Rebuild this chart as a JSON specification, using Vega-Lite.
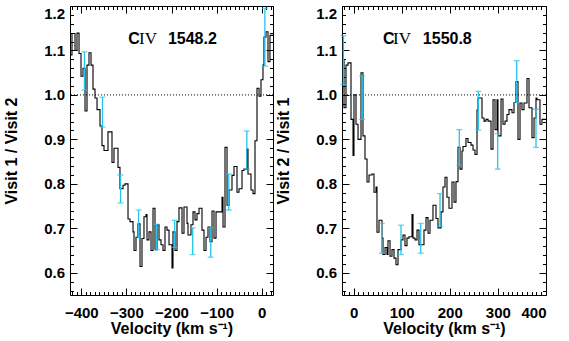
{
  "$schema": "https://vega.github.io/schema/vega-lite/v6.json",
  "autosize": {"type": "pad"},
  "padding": {"left": 2, "top": 5, "right": 0, "bottom": 0},
  "bounds": "flush",
  "spacing": 69,
  "config": {
    "view": {"stroke": "black", "strokeWidth": 1},
    "font": "Liberation Sans",
    "axis": {
      "domain": false, "grid": false, "tickColor": "black", "labelColor": "black",
      "labelFont": "Liberation Sans", "labelFontWeight": "bold", "labelFontSize": 15,
      "titleFont": "Liberation Sans", "titleFontWeight": "bold", "titleFontSize": 16, "titleColor": "black",
      "labelOverlap": false, "tickWidth": 1
    }
  },
  "datasets": {
    "left": [
      {"v":-425,"r":1.09},{"v":-420.6,"r":1.138},{"v":-413.9,"r":1.10},{"v":-409.5,"r":1.139},{"v":-405.0,"r":1.093},
      {"v":-400.6,"r":1.042},{"v":-396.2,"r":1.06},{"v":-391.7,"r":0.964},{"v":-387.3,"r":1.067},{"v":-382.9,"r":1.095},
      {"v":-378.4,"r":1.067},{"v":-374.0,"r":1.013},{"v":-369.6,"r":0.993},{"v":-365.1,"r":0.967},{"v":-358.5,"r":0.93},
      {"v":-354.1,"r":0.886},{"v":-349.6,"r":0.875},{"v":-340.8,"r":0.917},{"v":-331.9,"r":0.848},{"v":-327.5,"r":0.88},
      {"v":-318.6,"r":0.837},{"v":-314.2,"r":0.789},{"v":-307.5,"r":0.797},{"v":-303.1,"r":0.80},{"v":-296.4,"r":0.721},
      {"v":-292.0,"r":0.715},{"v":-285.3,"r":0.692},{"v":-283.1,"r":0.65},{"v":-278.7,"r":0.68},{"v":-274.3,"r":0.71},
      {"v":-269.8,"r":0.614},{"v":-265.4,"r":0.677},{"v":-261.0,"r":0.726},{"v":-256.5,"r":0.731},{"v":-254.3,"r":0.674},
      {"v":-249.9,"r":0.692},{"v":-245.4,"r":0.65},{"v":-241.0,"r":0.745},{"v":-236.6,"r":0.652},{"v":-232.1,"r":0.708},
      {"v":-227.7,"r":0.674},{"v":-223.3,"r":0.663},{"v":-218.8,"r":0.65},{"v":-214.4,"r":0.703},{"v":-210.0,"r":0.696},
      {"v":-205.5,"r":0.663},{"v":-198.9,"r":0.611},{"v":-196.7,"r":0.692},{"v":-192.2,"r":0.65},{"v":-187.8,"r":0.715},
      {"v":-183.4,"r":0.746},{"v":-176.7,"r":0.689},{"v":-172.3,"r":0.748},{"v":-165.6,"r":0.711},{"v":-163.4,"r":0.685},
      {"v":-156.8,"r":0.708},{"v":-152.3,"r":0.737},{"v":-147.9,"r":0.719},{"v":-143.5,"r":0.733},{"v":-139.0,"r":0.745},
      {"v":-132.4,"r":0.696},{"v":-128.0,"r":0.65},{"v":-123.5,"r":0.68},{"v":-119.1,"r":0.703},{"v":-114.6,"r":0.67},
      {"v":-110.2,"r":0.739},{"v":-105.8,"r":0.678},{"v":-101.3,"r":0.737},{"v":-88.0,"r":0.77},{"v":-85.8,"r":0.703},
      {"v":-81.4,"r":0.882},{"v":-76.9,"r":0.752},{"v":-72.5,"r":0.786},{"v":-65.9,"r":0.819},{"v":-61.4,"r":0.839},
      {"v":-54.8,"r":0.781},{"v":-50.4,"r":0.789},{"v":-43.7,"r":0.83},{"v":-39.3,"r":0.833},{"v":-32.6,"r":0.878},
      {"v":-30.4,"r":0.822},{"v":-23.8,"r":0.786},{"v":-19.3,"r":0.778},{"v":-14.9,"r":0.897},{"v":-10.5,"r":1.015},
      {"v":-6.0,"r":0.997},{"v":-1.6,"r":1.034},{"v":2.8,"r":1.067},{"v":5.0,"r":1.13},{"v":9.5,"r":1.142},
      {"v":13.9,"r":1.075},{"v":18.3,"r":1.134},{"v":25,"r":1.134}
    ],
    "leftErr": [
      {"v":-393,"lo":1.011,"hi":1.097},{"v":-353,"lo":0.928,"hi":0.995},{"v":-313,"lo":0.757,"hi":0.82},
      {"v":-273,"lo":0.681,"hi":0.741},{"v":-233,"lo":0.652,"hi":0.709},{"v":-193,"lo":0.657,"hi":0.718},
      {"v":-153,"lo":0.641,"hi":0.701},{"v":-113,"lo":0.635,"hi":0.701},{"v":-73,"lo":0.741,"hi":0.822},
      {"v":-33,"lo":0.833,"hi":0.919},{"v":7,"lo":1.065,"hi":1.195}
    ],
    "right": [
      {"v":-24,"r":1.078},{"v":-19.8,"r":0.971},{"v":-15.7,"r":1.067},{"v":-11.5,"r":1.072},{"v":-5.3,"r":0.945},
      {"v":-1.1,"r":0.864},{"v":0.9,"r":1.0},{"v":5.1,"r":0.934},{"v":9.3,"r":0.9},{"v":15.5,"r":1.05},
      {"v":19.6,"r":0.908},{"v":23.8,"r":0.856},{"v":28.0,"r":0.804},{"v":32.1,"r":0.82},{"v":38.4,"r":0.822},
      {"v":42.5,"r":0.781},{"v":46.7,"r":0.793},{"v":48.7,"r":0.691},{"v":52.9,"r":0.718},{"v":59.1,"r":0.678},
      {"v":61.2,"r":0.641},{"v":65.4,"r":0.657},{"v":69.5,"r":0.641},{"v":71.6,"r":0.672},{"v":75.8,"r":0.637},
      {"v":79.9,"r":0.652},{"v":84.1,"r":0.633},{"v":88.2,"r":0.618},{"v":92.4,"r":0.652},{"v":98.6,"r":0.674},
      {"v":102.8,"r":0.685},{"v":106.9,"r":0.661},{"v":111.1,"r":0.678},{"v":115.3,"r":0.681},{"v":121.5,"r":0.731},
      {"v":123.6,"r":0.678},{"v":127.7,"r":0.674},{"v":131.9,"r":0.696},{"v":136.0,"r":0.663},{"v":142.3,"r":0.663},
      {"v":146.4,"r":0.696},{"v":150.6,"r":0.724},{"v":154.8,"r":0.689},{"v":158.9,"r":0.718},{"v":165.1,"r":0.752},
      {"v":171.4,"r":0.722},{"v":175.5,"r":0.701},{"v":181.8,"r":0.737},{"v":185.9,"r":0.793},{"v":190.1,"r":0.815},
      {"v":194.2,"r":0.77},{"v":198.4,"r":0.745},{"v":204.6,"r":0.804},{"v":208.8,"r":0.759},{"v":212.9,"r":0.805},
      {"v":217.1,"r":0.882},{"v":221.3,"r":0.833},{"v":225.4,"r":0.874},{"v":227.5,"r":0.884},{"v":233.7,"r":0.902},
      {"v":237.9,"r":0.893},{"v":244.1,"r":0.887},{"v":248.3,"r":0.876},{"v":252.4,"r":0.866},{"v":256.6,"r":0.966},
      {"v":258.7,"r":0.993},{"v":267.0,"r":0.948},{"v":271.2,"r":0.941},{"v":275.3,"r":0.945},{"v":279.5,"r":0.941},
      {"v":285.7,"r":0.878},{"v":289.9,"r":0.989},{"v":294.0,"r":0.922},{"v":298.2,"r":0.989},{"v":300.2,"r":0.908},
      {"v":306.5,"r":0.991},{"v":310.6,"r":0.934},{"v":314.8,"r":0.941},{"v":318.9,"r":0.956},{"v":323.1,"r":0.967},
      {"v":329.3,"r":0.96},{"v":333.5,"r":0.983},{"v":337.7,"r":1.03},{"v":341.8,"r":0.9},{"v":346.0,"r":0.982},
      {"v":350.1,"r":0.967},{"v":354.3,"r":0.982},{"v":360.5,"r":1.037},{"v":364.7,"r":0.971},{"v":370.9,"r":0.904},
      {"v":375.1,"r":0.948},{"v":379.2,"r":0.993},{"v":381.3,"r":0.989},{"v":387.5,"r":0.934},{"v":391.7,"r":0.945},
      {"v":400,"r":0.945}
    ],
    "rightErr": [
      {"v":-21,"lo":1.023,"hi":1.133},{"v":18,"lo":0.945,"hi":1.043},{"v":58.5,"lo":0.644,"hi":0.711},
      {"v":98.6,"lo":0.641,"hi":0.707},{"v":139.6,"lo":0.644,"hi":0.711},{"v":179.7,"lo":0.704,"hi":0.778},
      {"v":219.8,"lo":0.842,"hi":0.922},{"v":259.3,"lo":0.921,"hi":1.008},{"v":299.6,"lo":0.833,"hi":0.913},
      {"v":339.1,"lo":0.983,"hi":1.077},{"v":379.2,"lo":0.882,"hi":0.968}
    ]
  },
  "hconcat": [
    {
      "width": 203, "height": 289,
      "resolve": {"axis": {"x": "independent", "y": "independent"}},
      "layer": [
        {
          "data": {"values": [{}]},
          "mark": {"type": "rule", "color": "black", "strokeWidth": 1, "strokeDash": [1, 2]},
          "encoding": {"y": {"datum": 1, "type": "quantitative", "scale": {"domain": [0.55, 1.2], "nice": false}, "axis": null}}
        },
        {
          "data": {"name": "left"},
          "mark": {"type": "line", "interpolate": "step-after", "color": "black", "strokeWidth": 1.1},
          "encoding": {
            "x": {"field": "v", "type": "quantitative", "scale": {"domain": [-425, 25], "nice": false, "zero": false},
              "axis": {"orient": "bottom",
                "values": [-420,-410,-400,-390,-380,-370,-360,-350,-340,-330,-320,-310,-300,-290,-280,-270,-260,-250,-240,-230,-220,-210,-200,-190,-180,-170,-160,-150,-140,-130,-120,-110,-100,-90,-80,-70,-60,-50,-40,-30,-20,-10,0,10,20],
                "labelExpr": "datum.value % 100 === 0 ? format(datum.value, 'd') : ''",
                "tickSize": {"condition": {"test": "datum.value % 100 === 0", "value": -7}, "value": -3.5},
                "labelPadding": 17, "title": "Velocity (km s⁻¹)", "titleY": 38, "titleBaseline": "alphabetic"}},
            "y": {"field": "r", "type": "quantitative", "scale": {"domain": [0.55, 1.2], "nice": false, "zero": false},
              "axis": {"orient": "left",
                "values": [0.56,0.58,0.6,0.62,0.64,0.66,0.68,0.7,0.72,0.74,0.76,0.78,0.8,0.82,0.84,0.86,0.88,0.9,0.92,0.94,0.96,0.98,1.0,1.02,1.04,1.06,1.08,1.1,1.12,1.14,1.16,1.18,1.2],
                "labelExpr": "abs(datum.value*10 - round(datum.value*10)) < 0.01 ? format(datum.value, '.1f') : ''",
                "tickSize": {"condition": {"test": "abs(datum.value*10 - round(datum.value*10)) < 0.01", "value": -7}, "value": -3.5},
                "labelPadding": 12.5, "labelFlush": true, "title": "Visit 1 / Visit 2", "titleX": -51}}
          }
        },
        {
          "data": {"name": "leftErr"},
          "mark": {"type": "rule", "color": "#22c4ee", "strokeWidth": 1.3},
          "encoding": {
            "x": {"field": "v", "type": "quantitative", "scale": {"domain": [-425, 25], "nice": false, "zero": false},
              "axis": {"orient": "top", "labels": false, "title": null,
                "values": [-420,-410,-400,-390,-380,-370,-360,-350,-340,-330,-320,-310,-300,-290,-280,-270,-260,-250,-240,-230,-220,-210,-200,-190,-180,-170,-160,-150,-140,-130,-120,-110,-100,-90,-80,-70,-60,-50,-40,-30,-20,-10,0,10,20],
                "tickSize": {"condition": {"test": "datum.value % 100 === 0", "value": -7}, "value": -3.5}}},
            "y": {"field": "lo", "type": "quantitative", "scale": {"domain": [0.55, 1.2], "nice": false, "zero": false},
              "axis": {"orient": "right", "labels": false, "title": null,
                "values": [0.56,0.58,0.6,0.62,0.64,0.66,0.68,0.7,0.72,0.74,0.76,0.78,0.8,0.82,0.84,0.86,0.88,0.9,0.92,0.94,0.96,0.98,1.0,1.02,1.04,1.06,1.08,1.1,1.12,1.14,1.16,1.18,1.2],
                "tickSize": {"condition": {"test": "abs(datum.value*10 - round(datum.value*10)) < 0.01", "value": -7}, "value": -3.5}}},
            "y2": {"field": "hi"}
          }
        },
        {
          "data": {"name": "leftErr"},
          "mark": {"type": "tick", "orient": "horizontal", "color": "#22c4ee", "size": 6, "thickness": 1.3},
          "encoding": {
            "x": {"field": "v", "type": "quantitative", "axis": null},
            "y": {"field": "lo", "type": "quantitative", "axis": null}
          }
        },
        {
          "data": {"name": "leftErr"},
          "mark": {"type": "tick", "orient": "horizontal", "color": "#22c4ee", "size": 6, "thickness": 1.3},
          "encoding": {
            "x": {"field": "v", "type": "quantitative", "axis": null},
            "y": {"field": "hi", "type": "quantitative", "axis": null}
          }
        },
        {
          "data": {"values": [{}]},
          "mark": {"type": "text", "text": "C", "font": "Liberation Sans", "fontWeight": "bold", "fontSize": 16, "align": "left", "baseline": "alphabetic", "color": "black"},
          "encoding": {"x": {"datum": -296, "type": "quantitative", "axis": null}, "y": {"datum": 1.1138, "type": "quantitative", "axis": null}}
        },
        {
          "data": {"values": [{}]},
          "mark": {"type": "text", "text": "IV", "font": "Liberation Serif", "fontSize": 17, "align": "left", "baseline": "alphabetic", "color": "black"},
          "encoding": {"x": {"datum": -272, "type": "quantitative", "axis": null}, "y": {"datum": 1.1138, "type": "quantitative", "axis": null}}
        },
        {
          "data": {"values": [{}]},
          "mark": {"type": "text", "text": "1548.2", "font": "Liberation Sans", "fontWeight": "bold", "fontSize": 16, "align": "left", "baseline": "alphabetic", "color": "black"},
          "encoding": {"x": {"datum": -208, "type": "quantitative", "axis": null}, "y": {"datum": 1.1138, "type": "quantitative", "axis": null}}
        }
      ]
    },
    {
      "width": 204, "height": 289,
      "resolve": {"axis": {"x": "independent", "y": "independent"}},
      "layer": [
        {
          "data": {"values": [{}]},
          "mark": {"type": "rule", "color": "black", "strokeWidth": 1, "strokeDash": [1, 2]},
          "encoding": {"y": {"datum": 1, "type": "quantitative", "scale": {"domain": [0.55, 1.2], "nice": false}, "axis": null}}
        },
        {
          "data": {"name": "right"},
          "mark": {"type": "line", "interpolate": "step-after", "color": "black", "strokeWidth": 1.1},
          "encoding": {
            "x": {"field": "v", "type": "quantitative", "scale": {"domain": [-24, 400], "nice": false, "zero": false},
              "axis": {"orient": "bottom",
                "values": [-20,-10,0,10,20,30,40,50,60,70,80,90,100,110,120,130,140,150,160,170,180,190,200,210,220,230,240,250,260,270,280,290,300,310,320,330,340,350,360,370,380,390,400],
                "labelExpr": "datum.value % 100 === 0 ? format(datum.value, 'd') : ''",
                "tickSize": {"condition": {"test": "datum.value % 100 === 0", "value": -7}, "value": -3.5},
                "labelPadding": 17, "title": "Velocity (km s⁻¹)", "titleY": 38, "titleBaseline": "alphabetic"}},
            "y": {"field": "r", "type": "quantitative", "scale": {"domain": [0.55, 1.2], "nice": false, "zero": false},
              "axis": {"orient": "left",
                "values": [0.56,0.58,0.6,0.62,0.64,0.66,0.68,0.7,0.72,0.74,0.76,0.78,0.8,0.82,0.84,0.86,0.88,0.9,0.92,0.94,0.96,0.98,1.0,1.02,1.04,1.06,1.08,1.1,1.12,1.14,1.16,1.18,1.2],
                "labelExpr": "abs(datum.value*10 - round(datum.value*10)) < 0.01 ? format(datum.value, '.1f') : ''",
                "tickSize": {"condition": {"test": "abs(datum.value*10 - round(datum.value*10)) < 0.01", "value": -7}, "value": -3.5},
                "labelPadding": 12.5, "labelFlush": true, "title": "Visit 2 / Visit 1", "titleX": -51}}
          }
        },
        {
          "data": {"name": "rightErr"},
          "mark": {"type": "rule", "color": "#22c4ee", "strokeWidth": 1.3},
          "encoding": {
            "x": {"field": "v", "type": "quantitative", "scale": {"domain": [-24, 400], "nice": false, "zero": false},
              "axis": {"orient": "top", "labels": false, "title": null,
                "values": [-20,-10,0,10,20,30,40,50,60,70,80,90,100,110,120,130,140,150,160,170,180,190,200,210,220,230,240,250,260,270,280,290,300,310,320,330,340,350,360,370,380,390,400],
                "tickSize": {"condition": {"test": "datum.value % 100 === 0", "value": -7}, "value": -3.5}}},
            "y": {"field": "lo", "type": "quantitative", "scale": {"domain": [0.55, 1.2], "nice": false, "zero": false},
              "axis": {"orient": "right", "labels": false, "title": null,
                "values": [0.56,0.58,0.6,0.62,0.64,0.66,0.68,0.7,0.72,0.74,0.76,0.78,0.8,0.82,0.84,0.86,0.88,0.9,0.92,0.94,0.96,0.98,1.0,1.02,1.04,1.06,1.08,1.1,1.12,1.14,1.16,1.18,1.2],
                "tickSize": {"condition": {"test": "abs(datum.value*10 - round(datum.value*10)) < 0.01", "value": -7}, "value": -3.5}}},
            "y2": {"field": "hi"}
          }
        },
        {
          "data": {"name": "rightErr"},
          "mark": {"type": "tick", "orient": "horizontal", "color": "#22c4ee", "size": 6, "thickness": 1.3},
          "encoding": {
            "x": {"field": "v", "type": "quantitative", "axis": null},
            "y": {"field": "lo", "type": "quantitative", "axis": null}
          }
        },
        {
          "data": {"name": "rightErr"},
          "mark": {"type": "tick", "orient": "horizontal", "color": "#22c4ee", "size": 6, "thickness": 1.3},
          "encoding": {
            "x": {"field": "v", "type": "quantitative", "axis": null},
            "y": {"field": "hi", "type": "quantitative", "axis": null}
          }
        },
        {
          "data": {"values": [{}]},
          "mark": {"type": "text", "text": "C", "font": "Liberation Sans", "fontWeight": "bold", "fontSize": 16, "align": "left", "baseline": "alphabetic", "color": "black"},
          "encoding": {"x": {"datum": 61, "type": "quantitative", "axis": null}, "y": {"datum": 1.1138, "type": "quantitative", "axis": null}}
        },
        {
          "data": {"values": [{}]},
          "mark": {"type": "text", "text": "IV", "font": "Liberation Serif", "fontSize": 17, "align": "left", "baseline": "alphabetic", "color": "black"},
          "encoding": {"x": {"datum": 82, "type": "quantitative", "axis": null}, "y": {"datum": 1.1138, "type": "quantitative", "axis": null}}
        },
        {
          "data": {"values": [{}]},
          "mark": {"type": "text", "text": "1550.8", "font": "Liberation Sans", "fontWeight": "bold", "fontSize": 16, "align": "left", "baseline": "alphabetic", "color": "black"},
          "encoding": {"x": {"datum": 144, "type": "quantitative", "axis": null}, "y": {"datum": 1.1138, "type": "quantitative", "axis": null}}
        }
      ]
    }
  ]
}
